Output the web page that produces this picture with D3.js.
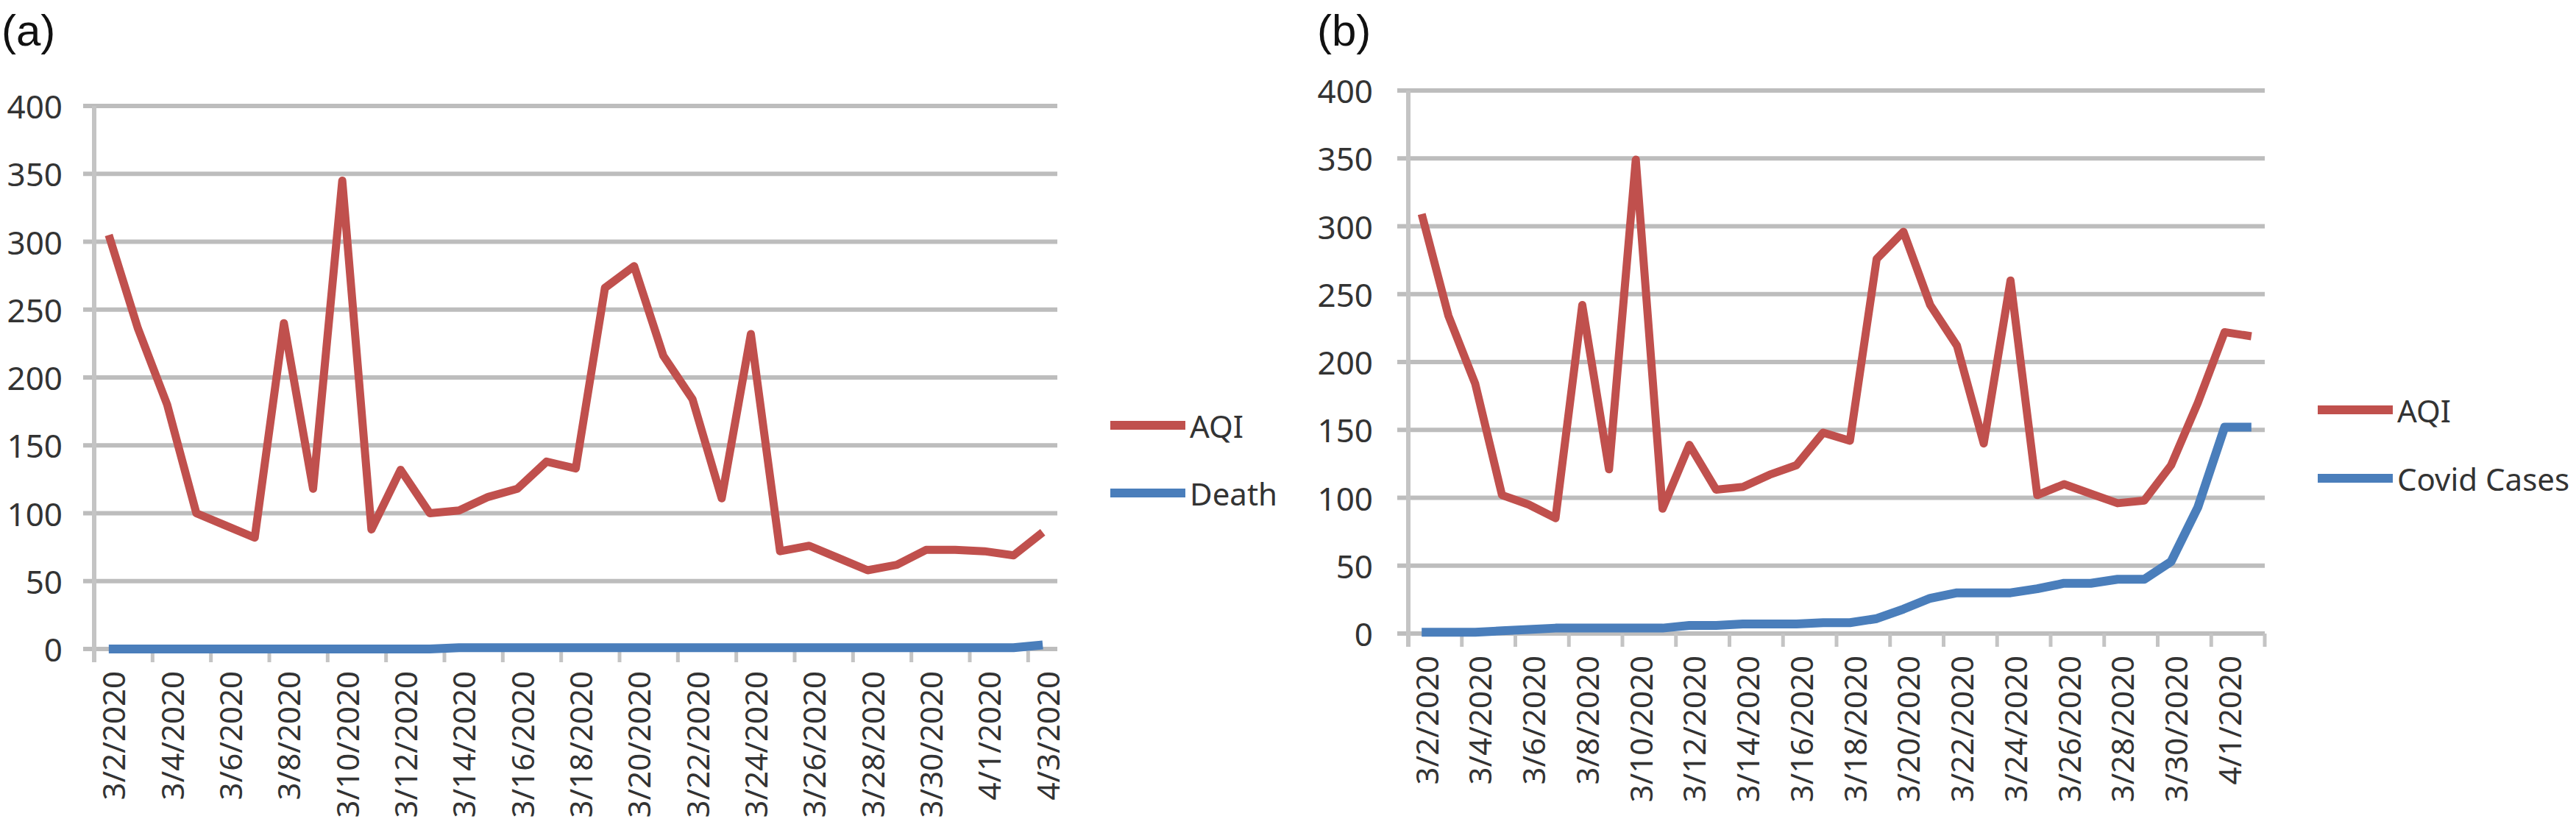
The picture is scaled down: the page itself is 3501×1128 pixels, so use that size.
<!DOCTYPE html>
<html>
<head>
<meta charset="utf-8">
<script src="https://cdn.jsdelivr.net/npm/d3@7"></script>
<style>
  html, body { margin: 0; padding: 0; background: #ffffff; }
  svg { display: block; }
</style>
</head>
<body>
<svg id="chart" width="3501" height="1128"></svg>
<script>
// ---------------- DATA ----------------
const datesA = ["3/2/2020","3/3/2020","3/4/2020","3/5/2020","3/6/2020","3/7/2020","3/8/2020","3/9/2020",
  "3/10/2020","3/11/2020","3/12/2020","3/13/2020","3/14/2020","3/15/2020","3/16/2020","3/17/2020",
  "3/18/2020","3/19/2020","3/20/2020","3/21/2020","3/22/2020","3/23/2020","3/24/2020","3/25/2020",
  "3/26/2020","3/27/2020","3/28/2020","3/29/2020","3/30/2020","3/31/2020","4/1/2020","4/2/2020","4/3/2020"];
const aqiA = [305,236,180,100,91,82,240,118,345,88,132,100,102,112,118,138,133,266,282,216,184,111,232,72,76,67,58,62,73,73,72,69,86];
const deathA = [0,0,0,0,0,0,0,0,0,0,0,0,1,1,1,1,1,1,1,1,1,1,1,1,1,1,1,1,1,1,1,1,3];

const datesB = ["3/2/2020","3/3/2020","3/4/2020","3/5/2020","3/6/2020","3/7/2020","3/8/2020","3/9/2020",
  "3/10/2020","3/11/2020","3/12/2020","3/13/2020","3/14/2020","3/15/2020","3/16/2020","3/17/2020",
  "3/18/2020","3/19/2020","3/20/2020","3/21/2020","3/22/2020","3/23/2020","3/24/2020","3/25/2020",
  "3/26/2020","3/27/2020","3/28/2020","3/29/2020","3/30/2020","3/31/2020","4/1/2020","4/2/2020"];
const aqiB = [309,234,184,102,95,85,242,121,349,92,139,106,108,117,124,148,142,276,296,242,212,140,260,102,110,103,96,98,124,170,222,219];
const covidB = [1,1,1,2,3,4,4,4,4,4,6,6,7,7,7,8,8,11,18,26,30,30,30,33,37,37,40,40,53,93,152,152];

const yTicks = [0,50,100,150,200,250,300,350,400];
const seriesNamesA = ["AQI","Death"];
const seriesNamesB = ["AQI","Covid Cases"];
const panelLabels = ["(a)","(b)"];

// ---------------- STYLE ----------------
const RED = "#c0504d", BLUE = "#4a7ebb";
const GRID = "#bdbdbd";
const FONT = "'Noto Sans', 'Open Sans', sans-serif";
const TXT = "#333333";

const svg = d3.select("#chart");
svg.append("rect").attr("width",3501).attr("height",1128).attr("fill","#fff");

function drawPanel(p) {
  const g = svg.append("g");
  const x = d3.scaleBand().domain(p.dates).range([p.x0, p.x1]).paddingInner(0).paddingOuter(0);
  const bw = x.bandwidth();
  const cx = d => x(d) + bw / 2;
  const y = d3.scaleLinear().domain([0, 400]).range([p.yZero, p.yTop]);

  // gridlines with small left ticks
  g.selectAll("line.grid").data(yTicks).join("line")
    .attr("x1", p.x0 - 15).attr("x2", p.x1)
    .attr("y1", d => y(d)).attr("y2", d => y(d))
    .attr("stroke", GRID).attr("stroke-width", 6);

  // vertical axis line
  g.append("line")
    .attr("x1", p.x0).attr("x2", p.x0)
    .attr("y1", y(400)).attr("y2", y(0) + 18)
    .attr("stroke", "#c4c4c4").attr("stroke-width", 6);

  // category ticks at every 2nd boundary
  const bounds = d3.range(0, p.dates.length + 1, 2);
  g.selectAll("line.xt").data(bounds).join("line")
    .attr("x1", b => p.x0 + b * bw).attr("x2", b => p.x0 + b * bw)
    .attr("y1", y(0)).attr("y2", y(0) + 18)
    .attr("stroke", "#c4c4c4").attr("stroke-width", 5);

  // y labels
  g.selectAll("text.yl").data(yTicks).join("text")
    .attr("x", p.yLabelRight).attr("y", d => y(d))
    .attr("text-anchor", "end").attr("dominant-baseline", "central")
    .attr("font-family", FONT).attr("font-size", 44).attr("fill", TXT)
    .text(d => d);

  // x labels (every 2nd category), rotated
  const lab = p.dates.filter((d, i) => i % 2 === 0);
  g.selectAll("text.xl").data(lab).join("text")
    .attr("transform", d => `translate(${cx(d) + 6},${y(0) + 30}) rotate(-90)`)
    .attr("text-anchor", "end").attr("dominant-baseline", "central")
    .attr("font-family", FONT).attr("font-size", 42).attr("fill", TXT)
    .text(d => d);

  // lines
  const line = vals => d3.line().x((v, i) => cx(p.dates[i])).y(v => y(v))(vals);
  g.append("path").attr("d", line(p.s1)).attr("fill", "none")
    .attr("stroke", RED).attr("stroke-width", 11).attr("stroke-linejoin", "round");
  g.append("path").attr("d", line(p.s2)).attr("fill", "none")
    .attr("stroke", BLUE).attr("stroke-width", 12).attr("stroke-linejoin", "round");

  // legend
  const cols = [RED, BLUE];
  p.names.forEach((n, i) => {
    const ly = p.legY[i];
    g.append("line").attr("x1", p.legX).attr("x2", p.legX + 102)
      .attr("y1", ly).attr("y2", ly).attr("stroke", cols[i]).attr("stroke-width", 12);
    g.append("text").attr("x", p.legX + 108).attr("y", ly)
      .attr("dominant-baseline", "central")
      .attr("font-family", FONT).attr("font-size", 42).attr("fill", TXT).text(n);
  });

  // panel label
  g.append("text").attr("x", p.tagX).attr("y", 62)
    .attr("font-family", "'Liberation Sans', Arial, sans-serif").attr("font-size", 60)
    .attr("fill", "#111").text(p.tag);
}

drawPanel({ dates: datesA, s1: aqiA, s2: deathA, names: seriesNamesA,
  x0: 128, x1: 1437, yZero: 882, yTop: 144, yLabelRight: 85,
  legX: 1509, legY: [578, 670], tag: panelLabels[0], tagX: 2 });

drawPanel({ dates: datesB, s1: aqiB, s2: covidB, names: seriesNamesB,
  x0: 1914, x1: 3078, yZero: 861, yTop: 123, yLabelRight: 1866,
  legX: 3150, legY: [557, 650], tag: panelLabels[1], tagX: 1790 });
</script>
</body>
</html>
